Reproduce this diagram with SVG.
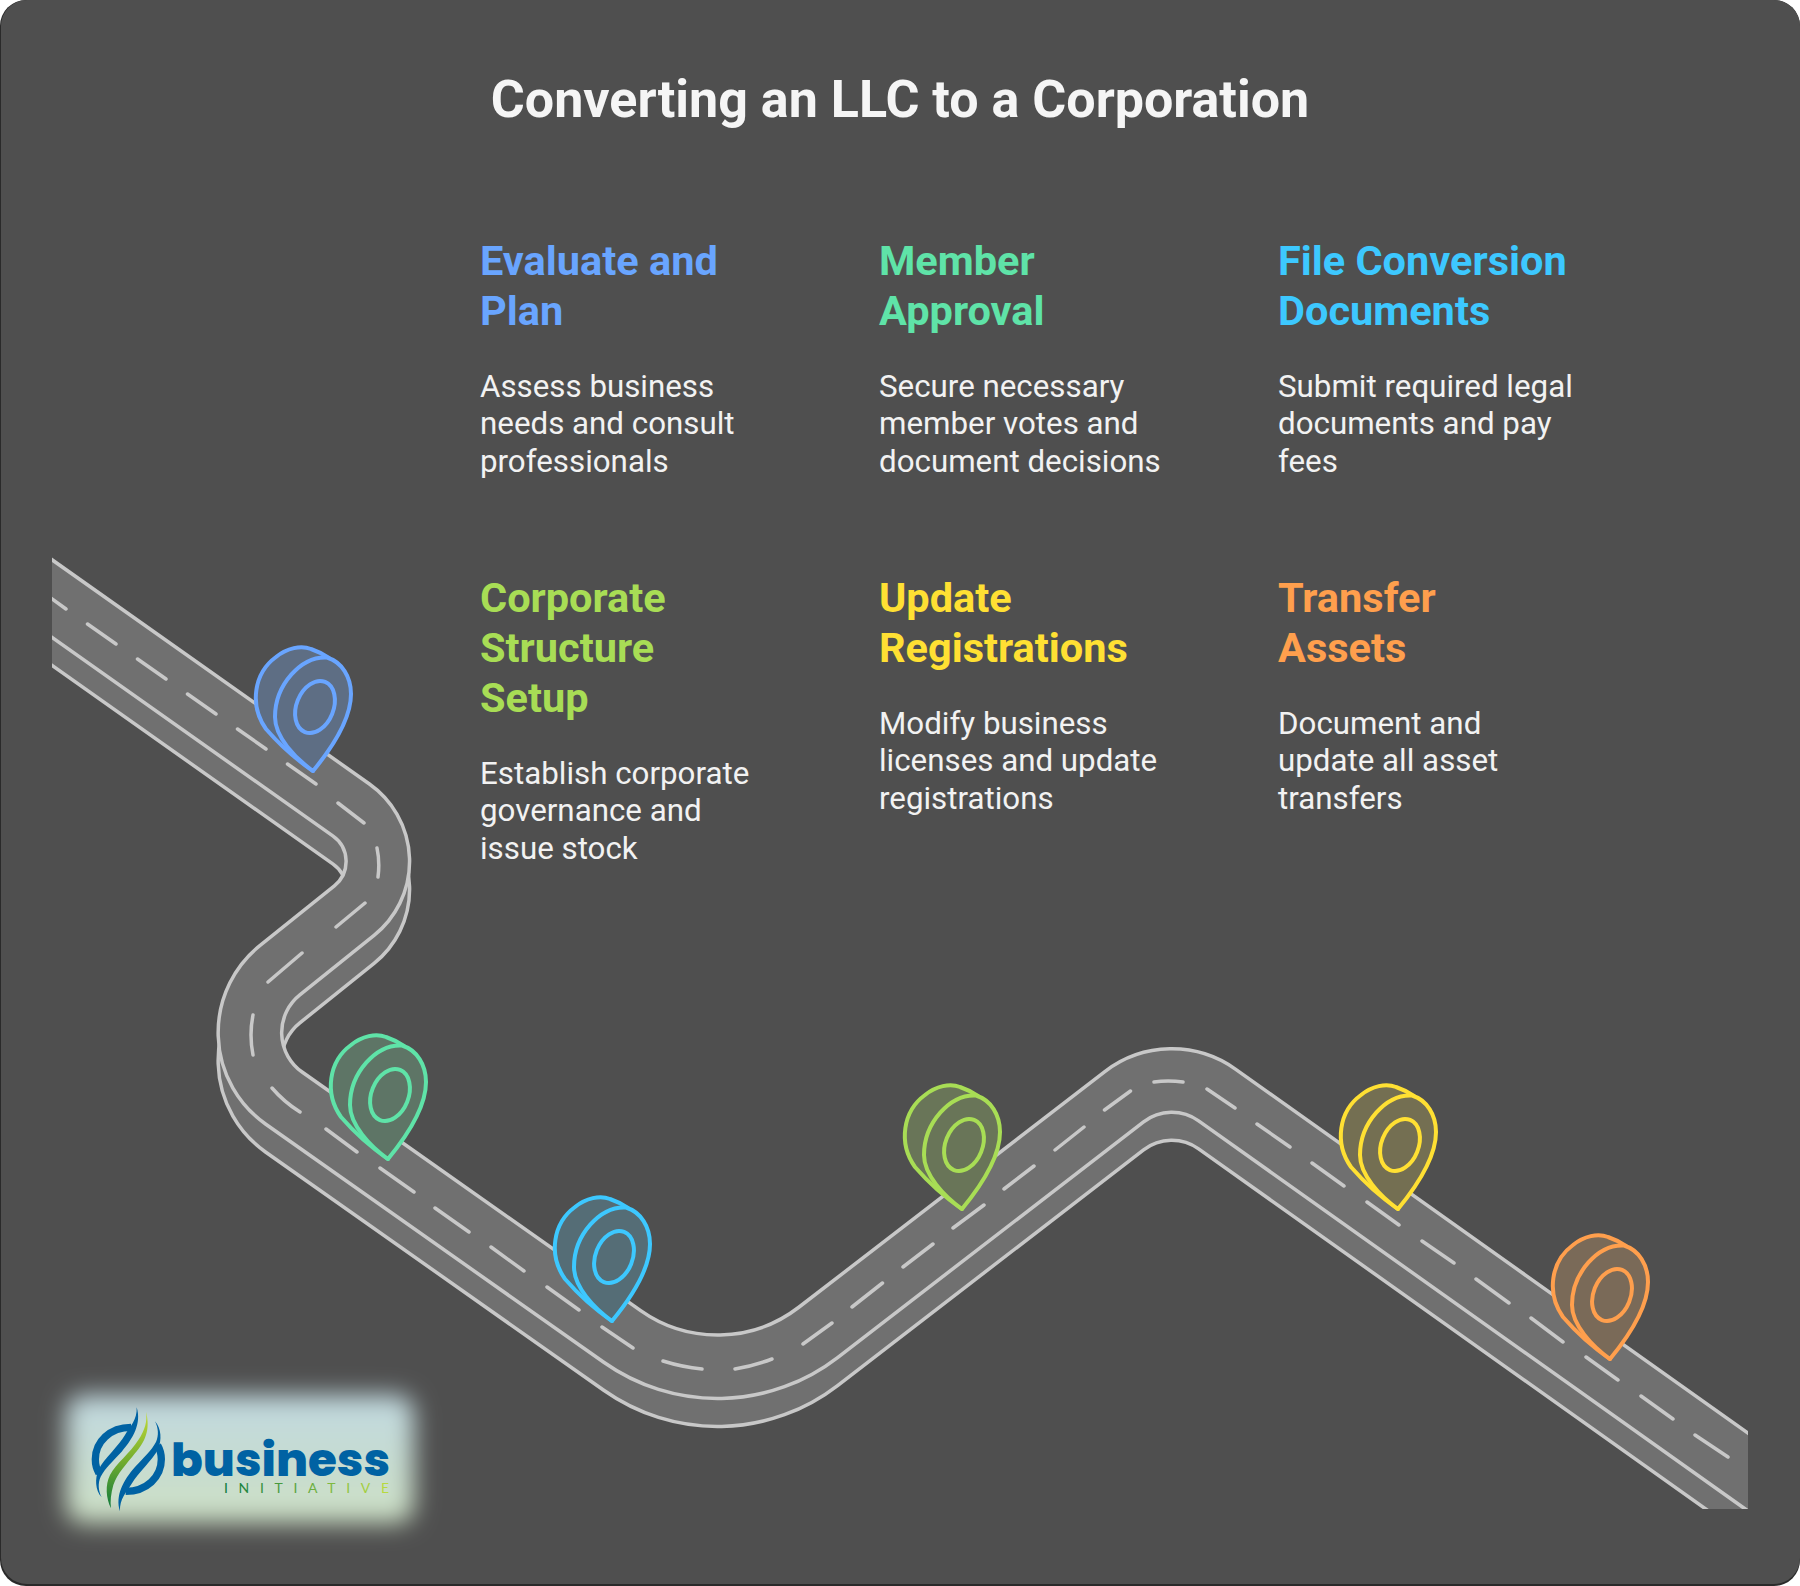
<svg xmlns="http://www.w3.org/2000/svg" width="1800" height="1586" viewBox="0 0 1800 1586">
<style>
.h{font-family:Roboto,"Liberation Sans",sans-serif;font-weight:700;font-size:41.5px}
.b{font-family:Roboto,"Liberation Sans",sans-serif;font-size:31.300px;fill:#f2f2f2}
.edge{fill:none;stroke:#c8c8c8;stroke-width:67}
.base{fill:none;stroke:#707070;stroke-width:60}
.pin{stroke-width:4;stroke-linejoin:round}
</style>
<defs>
<path id="road" d="M20,576 L 351.100,809.900 A63,63 0 0 1 354.200,910.600 L 280,970.100 A80,80 0 0 0 283.800,1098 L 622.400,1336.600 A165,165 0 0 0 818.200,1332.400 L 1124.200,1096.800 A78,78 0 0 1 1217,1095 L 1800,1509"/>
<clipPath id="rc"><rect x="52" y="0" width="1696" height="1509"/></clipPath>
<filter id="blur" x="-20%" y="-40%" width="140%" height="180%"><feGaussianBlur stdDeviation="12"/></filter>
<linearGradient id="halo" x1="0" y1="0" x2="0" y2="1"><stop offset="0" stop-color="#c0d8e0"/><stop offset="1" stop-color="#cde0c4"/></linearGradient>
<linearGradient id="sw" x1="0" y1="0" x2="0" y2="1"><stop offset="0" stop-color="#c4dc3a"/><stop offset=".5" stop-color="#74ad2e"/><stop offset="1" stop-color="#0f7a3c"/></linearGradient>
<linearGradient id="ini" gradientUnits="userSpaceOnUse" x1="225" y1="0" x2="390" y2="0"><stop offset="0" stop-color="#0f7a3c"/><stop offset="1" stop-color="#bcdc40"/></linearGradient>
<g id="pinshape">
<path d="M0,-2 C-16,-13 -34,-29 -47,-44 C-64,-68 -59,-100 -37,-116 C-26,-125 -12,-128 -2,-124 C4,-122 10,-119 16,-115 L20,-60 Z"/>
<path d="M0,-2 C14,-19 38,-50 38,-79 C38,-96 29,-111 14,-115.500 C-12,-117 -38,-88 -38,-56 C-38,-36 -18,-15 0,-2 Z"/>
<ellipse cx="2" cy="-66" rx="18.500" ry="27" transform="rotate(22 2 -66)"/>
</g>
</defs>
<rect width="1800" height="1586" fill="#ffffff"/>
<rect x="0" y="0" width="1800" height="1586" rx="26" fill="#2a2a2a"/>
<rect x="1" y="0" width="1799" height="1584" rx="26" fill="#4f4f4f"/>
<text x="900" y="117" text-anchor="middle" font-family="Roboto, 'Liberation Sans', sans-serif" font-weight="700" font-size="52" fill="#f5f5f5">Converting an LLC to a Corporation</text>
<g id="connectors" clip-path="url(#rc)">
<use href="#road" y="28" class="edge"/>
<use href="#road" y="28" class="base"/>
<use href="#road" class="edge"/>
<use href="#road" class="base"/>
<path fill="none" stroke="#c8c8c8" stroke-width="3.500" stroke-linecap="round" d="M48,596 L66,609 M87.500,624 L116,644 M137.500,659 L166,679 M187.500,694 L216,714 M237.500,729 L266,749 M287.500,764 L316,784 M338,803 L364,823 M377,848 Q380,862 378,877 M365,903 L336,927 M302,953 L268,982 M253,1015 Q249,1035 253,1055 M272,1088 Q284,1102 300,1112 M326,1129 L357,1152 M380,1168 L414,1192 M435,1208 L469,1232 M491,1247 L524,1271 M547,1287 L579,1310 M602,1327 L633,1348 M663,1361 Q682,1367 702,1369 M735,1369 Q753,1366 772,1359 M803,1344 L832,1323 M852,1307 L882.500,1283 M903,1267 L933,1244 M953,1228 L984,1205 M1004,1189 L1034,1166 M1055,1150 L1084,1127 M1104.500,1110 L1130.500,1091 M1154,1082 Q1168,1080 1183,1082 M1207,1089 L1235,1108 M1257,1124 L1290,1147 M1312,1163 L1344,1186 M1367,1202 L1399,1225 M1422,1241 L1454,1263 M1476,1279 L1509,1303 M1531,1318 L1563,1342 M1586,1357 L1618,1380 M1641,1396 L1673,1419 M1695,1435 L1728,1457"/>
</g>
<g id="node-1" class="pin" fill="#5e6e84" stroke="#69a5ff"><use href="#pinshape" x="313" y="773"/>
<text class="h" fill="#69a5ff" stroke="none" x="480" y="275">Evaluate and</text><text class="h" fill="#69a5ff" stroke="none" x="480" y="325">Plan</text>
<text class="b" stroke="none" x="480" y="397">Assess business</text><text class="b" stroke="none" x="480" y="434">needs and consult</text><text class="b" stroke="none" x="480" y="472">professionals</text></g>
<g id="node-2" class="pin" fill="#5e7566" stroke="#5fe3a8"><use href="#pinshape" x="388" y="1161"/>
<text class="h" fill="#5fe3a8" stroke="none" x="879" y="275">Member</text><text class="h" fill="#5fe3a8" stroke="none" x="879" y="325">Approval</text>
<text class="b" stroke="none" x="879" y="397">Secure necessary</text><text class="b" stroke="none" x="879" y="434">member votes and</text><text class="b" stroke="none" x="879" y="472">document decisions</text></g>
<g id="node-3" class="pin" fill="#556d76" stroke="#3dc8ff"><use href="#pinshape" x="612" y="1323"/>
<text class="h" fill="#3dc8ff" stroke="none" x="1278" y="275">File Conversion</text><text class="h" fill="#3dc8ff" stroke="none" x="1278" y="325">Documents</text>
<text class="b" stroke="none" x="1278" y="397">Submit required legal</text><text class="b" stroke="none" x="1278" y="434">documents and pay</text><text class="b" stroke="none" x="1278" y="472">fees</text></g>
<g id="node-4" class="pin" fill="#697558" stroke="#a8dd55"><use href="#pinshape" x="962" y="1211"/>
<text class="h" fill="#a8dd55" stroke="none" x="480" y="612">Corporate</text><text class="h" fill="#a8dd55" stroke="none" x="480" y="662">Structure</text><text class="h" fill="#a8dd55" stroke="none" x="480" y="712">Setup</text>
<text class="b" stroke="none" x="480" y="784">Establish corporate</text><text class="b" stroke="none" x="480" y="821">governance and</text><text class="b" stroke="none" x="480" y="859">issue stock</text></g>
<g id="node-5" class="pin" fill="#746f52" stroke="#ffe033"><use href="#pinshape" x="1398" y="1211"/>
<text class="h" fill="#ffe033" stroke="none" x="879" y="612">Update</text><text class="h" fill="#ffe033" stroke="none" x="879" y="662">Registrations</text>
<text class="b" stroke="none" x="879" y="734">Modify business</text><text class="b" stroke="none" x="879" y="771">licenses and update</text><text class="b" stroke="none" x="879" y="809">registrations</text></g>
<g id="node-6" class="pin" fill="#7a6a58" stroke="#ff9f4d"><use href="#pinshape" x="1610" y="1361"/>
<text class="h" fill="#ff9f4d" stroke="none" x="1278" y="612">Transfer</text><text class="h" fill="#ff9f4d" stroke="none" x="1278" y="662">Assets</text>
<text class="b" stroke="none" x="1278" y="734">Document and</text><text class="b" stroke="none" x="1278" y="771">update all asset</text><text class="b" stroke="none" x="1278" y="809">transfers</text></g>
<g id="logo">
<rect x="66" y="1395" width="348" height="128" rx="18" fill="url(#halo)" filter="url(#blur)"/>
<g transform="translate(30,1370) scale(.33333)">
<g id="half" fill="#0062a3">
<path d="M320,112 C335,160 310,205 275,245 C250,272 225,295 212,320 C203,340 205,362 215,382 C195,360 195,325 205,300 C225,262 265,230 285,195 C300,170 322,150 320,112Z"/>
<path d="M303,172 C240,172 196,215 196,268 C196,285 200,298 207,310" fill="none" stroke="#0062a3" stroke-width="22"/>
</g>
<use href="#half" transform="rotate(180 295 268)"/>
<path fill="url(#sw)" d="M348,125 C362,180 345,215 315,250 C290,282 262,310 250,345 C243,370 240,395 243,415 C228,385 225,345 240,315 C258,280 300,250 325,210 C345,180 352,155 348,125Z"/>
</g>
<text x="171" y="1476" font-family="Poppins, Inter, 'Liberation Sans', sans-serif" font-weight="800" font-size="46" fill="#0062a3" textLength="219" lengthAdjust="spacingAndGlyphs">business</text>
<text x="224" y="1493" font-family="Lato, 'Liberation Sans', sans-serif" font-size="14" fill="url(#ini)" textLength="165">INITIATIVE</text>
</g>
</svg>
